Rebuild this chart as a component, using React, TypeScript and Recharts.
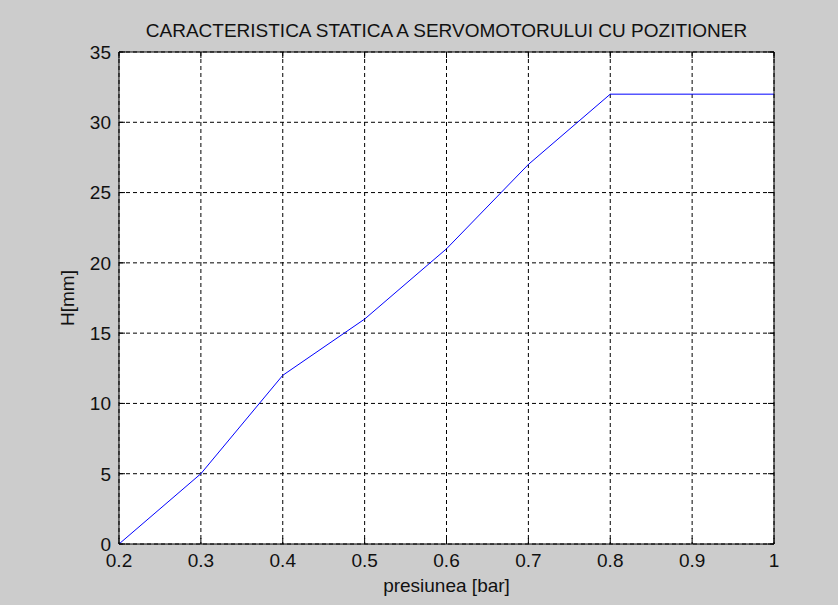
import React from 'react';
import { LineChart, Line, XAxis, YAxis, CartesianGrid, Label } from 'recharts';

const pressure = [0.2, 0.3, 0.4, 0.5, 0.6, 0.7, 0.8, 0.9, 1.0];
const stroke = [0, 5, 12, 16, 21, 27, 32, 32, 32];
const xTicks = [0.2, 0.3, 0.4, 0.5, 0.6, 0.7, 0.8, 0.9, 1];
const yTicks = [0, 5, 10, 15, 20, 25, 30, 35];
const xTickLabels = ['0.2', '0.3', '0.4', '0.5', '0.6', '0.7', '0.8', '0.9', '1'];
const title = 'CARACTERISTICA STATICA A SERVOMOTORULUI CU POZITIONER';
const xLabel = 'presiunea [bar]';
const yLabel = 'H[mm]';

const data = pressure.map((p, i) => ({ p, h: stroke[i] }));

const FONT = '"Liberation Sans", Arial, sans-serif';
const FS = 19;
const TXT = '#111';
const TICK_LEN = 6;
const X_MARGIN = 16;
const Y_MARGIN = 8;

const BottomTick = (props: any) => {
  const { x, y, index } = props;
  const axisY = y - X_MARGIN;
  return (
    <g>
      <line x1={x} y1={axisY} x2={x} y2={axisY - TICK_LEN} stroke="#000" strokeWidth={1} />
      <text x={x} y={y} dy="0.36em" textAnchor="middle" fontFamily={FONT} fontSize={FS} fill={TXT}>
        {xTickLabels[index]}
      </text>
    </g>
  );
};

const TopTick = (props: any) => {
  const { x, y } = props;
  return <line x1={x} y1={y} x2={x} y2={y + TICK_LEN} stroke="#000" strokeWidth={1} />;
};

const LeftTick = (props: any) => {
  const { x, y, payload } = props;
  const axisX = x + Y_MARGIN;
  return (
    <g>
      <line x1={axisX} y1={y} x2={axisX + TICK_LEN} y2={y} stroke="#000" strokeWidth={1} />
      <text x={x} y={y} dy="0.36em" textAnchor="end" fontFamily={FONT} fontSize={FS} fill={TXT}>
        {String(payload.value)}
      </text>
    </g>
  );
};

const RightTick = (props: any) => {
  const { x, y } = props;
  return <line x1={x} y1={y} x2={x - TICK_LEN} y2={y} stroke="#000" strokeWidth={1} />;
};

export default function App() {
  return (
    <div style={{ position: 'absolute', left: 0, top: 0, width: 838, height: 605, background: '#cccccc' }}>
      <LineChart width={838} height={605} data={data} margin={{ top: 51, right: 63, bottom: 0, left: 0 }}>
        <CartesianGrid
          xAxisId="b"
          yAxisId="l"
          stroke="#000"
          strokeDasharray="4 3"
          fill="#ffffff"
          fillOpacity={1}
          horizontalValues={yTicks}
          verticalValues={xTicks}
        />
        <XAxis
          xAxisId="b"
          dataKey="p"
          type="number"
          domain={[0.2, 1]}
          ticks={xTicks}
          allowDataOverflow
          height={61}
          tickSize={0}
          tickMargin={X_MARGIN}
          tick={<BottomTick />}
          stroke="#000"
          interval={0}
        >
          <Label
            content={(p: any) => {
              const vb = p.viewBox;
              return (
                <text x={vb.x + vb.width / 2} y={vb.y + 48} textAnchor="middle" fontFamily={FONT} fontSize={FS} fill={TXT}>
                  {xLabel}
                </text>
              );
            }}
          />
        </XAxis>
        <XAxis
          xAxisId="t"
          orientation="top"
          dataKey="p"
          type="number"
          domain={[0.2, 1]}
          ticks={xTicks}
          allowDataOverflow
          height={1}
          tickSize={0}
          tickMargin={0}
          tick={<TopTick />}
          stroke="#000"
          interval={0}
        >
          <Label
            content={(p: any) => {
              const vb = p.viewBox;
              return (
                <text x={vb.x + vb.width / 2} y={vb.y - 14} textAnchor="middle" fontFamily={FONT} fontSize={FS} fill={TXT}>
                  {title}
                </text>
              );
            }}
          />
        </XAxis>
        <YAxis
          yAxisId="l"
          type="number"
          domain={[0, 35]}
          ticks={yTicks}
          allowDataOverflow
          width={119}
          tickSize={0}
          tickMargin={Y_MARGIN}
          tick={<LeftTick />}
          stroke="#000"
          interval={0}
        >
          <Label
            content={(p: any) => {
              const vb = p.viewBox;
              const cx = vb.x + 67;
              const cy = vb.y + vb.height / 2;
              return (
                <text x={cx} y={cy} textAnchor="middle" dominantBaseline="central" transform={`rotate(-90 ${cx} ${cy})`} fontFamily={FONT} fontSize={FS} fill={TXT}>
                  {yLabel}
                </text>
              );
            }}
          />
        </YAxis>
        <YAxis
          yAxisId="r"
          orientation="right"
          type="number"
          domain={[0, 35]}
          ticks={yTicks}
          allowDataOverflow
          width={1}
          tickSize={0}
          tickMargin={0}
          tick={<RightTick />}
          stroke="#000"
          interval={0}
        />
        <Line
          xAxisId="b"
          yAxisId="l"
          type="linear"
          dataKey="h"
          stroke="#0000ff"
          strokeWidth={1}
          dot={false}
          isAnimationActive={false}
        />
      </LineChart>
    </div>
  );
}
